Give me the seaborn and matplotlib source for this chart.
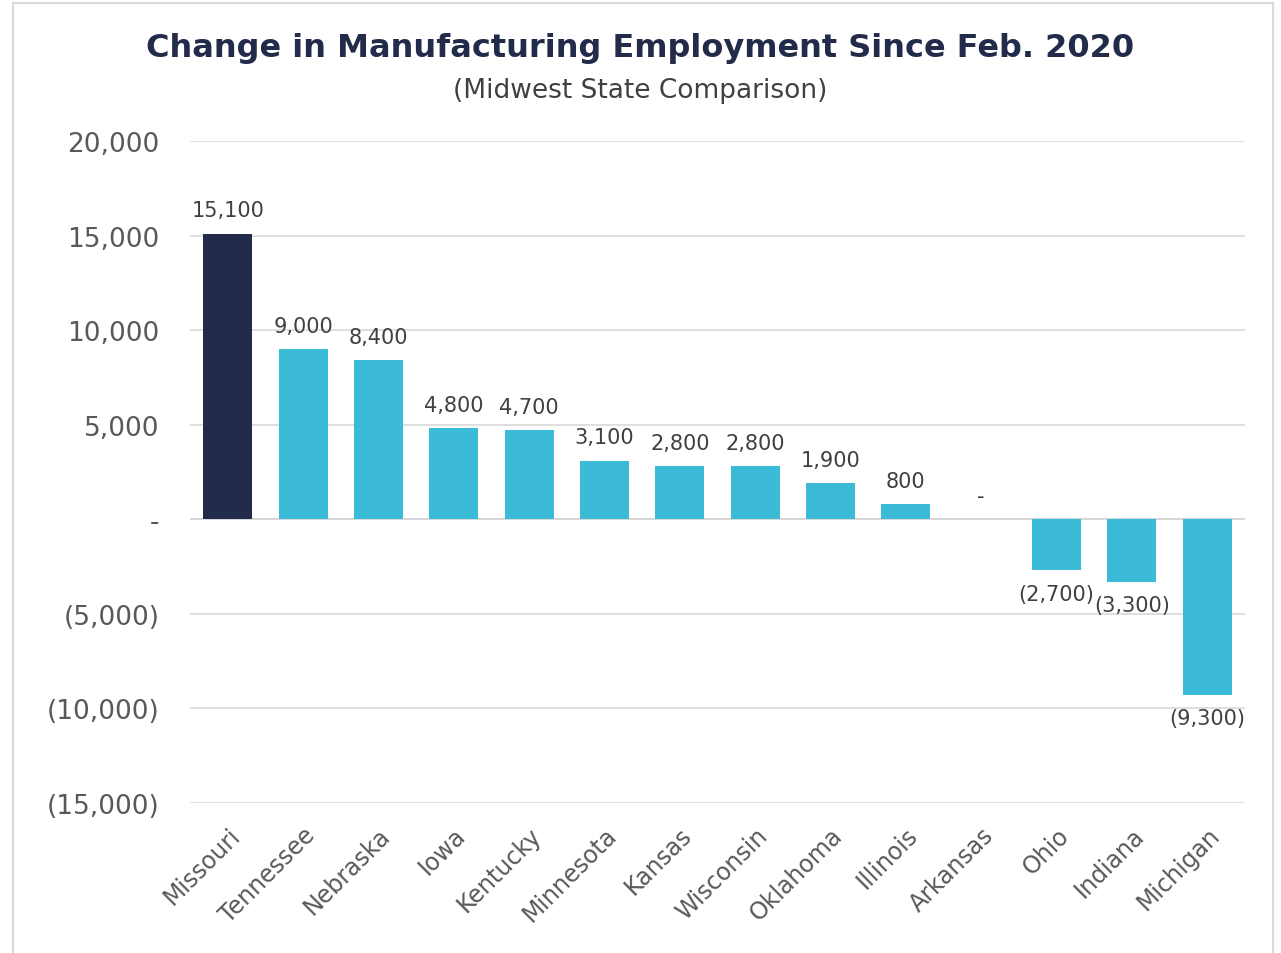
import numpy as np
import pandas as pd
import matplotlib.pyplot as plt
import seaborn as sns
from matplotlib.ticker import FuncFormatter

# Data
states = ['Missouri', 'Tennessee', 'Nebraska', 'Iowa', 'Kentucky', 'Minnesota', 'Kansas',
          'Wisconsin', 'Oklahoma', 'Illinois', 'Arkansas', 'Ohio', 'Indiana', 'Michigan']
change = [15100, 9000, 8400, 4800, 4700, 3100, 2800, 2800, 1900, 800, 0, -2700, -3300, -9300]
highlight = 'Missouri'

navy = '#222B4A'
cyan = '#3BBBD5'

def fmt(v):
    if v == 0:
        return '-'
    if v < 0:
        return '({:,.0f})'.format(-v)
    return '{:,.0f}'.format(v)

df = pd.DataFrame({'State': states, 'Change': change})
palette = {s: (navy if s == highlight else cyan) for s in states}

sns.set_style('white')
plt.rcParams['font.family'] = ['DejaVu Sans']

fig = plt.figure(figsize=(12.81, 9.54), dpi=100)
ax = fig.add_axes([0.1483, 0.1572, 0.8236, 0.694])

sns.barplot(data=df, x='State', y='Change', hue='State', palette=palette,
            legend=False, width=0.65, saturation=1, linewidth=0, ax=ax)

ax.set_ylim(-15000, 20000)
ax.set_xlim(-0.5, len(states) - 0.5)
ax.set_yticks(np.arange(-15000, 20001, 5000))
ax.yaxis.set_major_formatter(FuncFormatter(lambda v, p: fmt(v)))
ax.grid(axis='y', color='#D9D9D9', linewidth=1.2)
ax.set_axisbelow(True)
for s in ax.spines.values():
    s.set_visible(False)
ax.axhline(0, color='#D0D0D0', linewidth=1.2, zorder=0.5)

ax.tick_params(axis='y', labelsize=19, colors='#595959', length=0, pad=22)
ax.tick_params(axis='x', labelsize=17, colors='#595959', length=0, pad=14)
plt.setp(ax.get_xticklabels(), rotation=45, ha='right', rotation_mode='anchor')
ax.set_xlabel('')
ax.set_ylabel('')

for i, v in enumerate(change):
    if v >= 0:
        ax.text(i, v + 700, fmt(v), ha='center', va='bottom', fontsize=15, color='#404040')
    else:
        ax.text(i, v - 700, fmt(v), ha='center', va='top', fontsize=15, color='#404040')

fig.text(0.5, 0.949, 'Change in Manufacturing Employment Since Feb. 2020', ha='center',
         va='center', fontsize=23, fontweight='bold', color=navy)
fig.text(0.5, 0.905, '(Midwest State Comparison)', ha='center', va='center',
         fontsize=19, color='#404040')

# light border around the chart
fig.patches.append(plt.Rectangle((13 / 1281, -0.01), 1260 / 1281, 1.006,
                                 transform=fig.transFigure, fill=False,
                                 edgecolor='#D9D9D9', linewidth=1.5))

fig.savefig('out.png', dpi=100)
